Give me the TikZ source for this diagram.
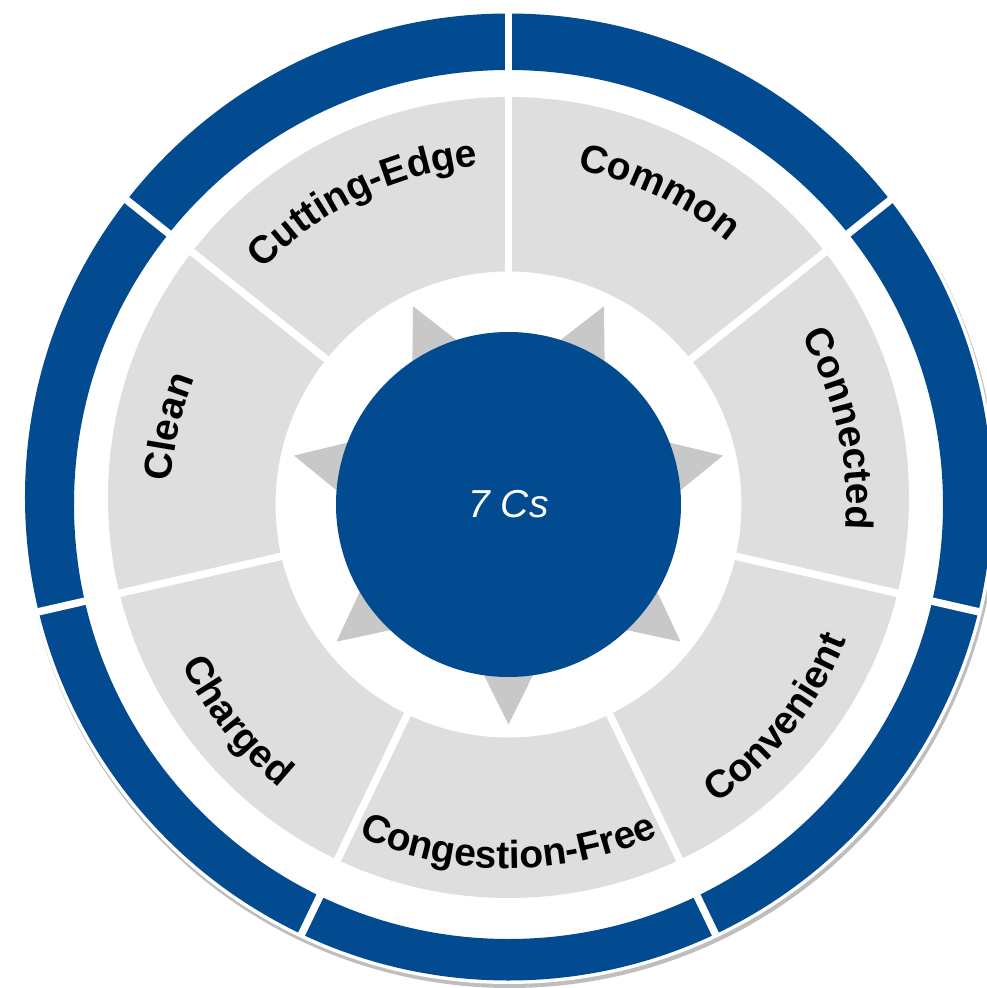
\documentclass[tikz,border=0pt]{standalone}
\usepackage{fontspec}
\setmainfont{Liberation Sans}
\usetikzlibrary{decorations.text}
\definecolor{cblue}{RGB}{2,75,145}
\definecolor{segray}{RGB}{222,222,222}
\definecolor{stargray}{RGB}{200,200,200}
\definecolor{shadowgray}{RGB}{190,190,190}
\tikzset{
  outtext/.style={decorate, decoration={text along path, text align=center,
      text={|\bfseries\fontsize{39}{42}\selectfont|#1}}},
  intext/.style={decorate, decoration={text along path, text align=center,
      text={|\bfseries\fontsize{39}{42}\selectfont|#1}}},
  gapline/.style={white, line width=7.5},
}
\begin{document}
\begin{tikzpicture}[x=1pt,y=1pt]
\useasboundingbox (-508.5,-483.5) rectangle (477.5,504.5);
% shadow and white rim
\fill[shadowgray] (1.5,4) circle (487.5);
\fill[white] (0,7.5) circle (487);
% outer blue ring
\fill[cblue, even odd rule] (0,7.5) circle (483.5) (0,0) circle (434.5);
% gray segments
\fill[segray, even odd rule] (0,7) circle (400.5) (0,0) circle (233);
% gaps
\begin{scope}
  \clip (0,7.5) circle (484);
  \foreach \k in {0,...,6}
    \draw[gapline] ({90-\k*360/7}:200) -- ({90-\k*360/7}:520);
\end{scope}
% star
\fill[stargray] (-90:220)
  \foreach \k in {0,...,6} { -- ({-90+\k*360/7+360/14}:124) -- ({-90+(\k+1)*360/7}:220) } -- cycle;
% centre disc
\fill[cblue] (0,0) circle (172.5);
\node[text=white, font=\itshape\fontsize{39}{42}\selectfont] (center) at (0,0) {7 Cs};
% labels, clockwise (tops outward)
\path[outtext={Cutting-Edge}] ({115.714+45}:340) arc[start angle=160.714, end angle=70.714, radius=340];
\path[outtext={Common}] ({64.286+45}:342) arc[start angle=109.286, end angle=19.286, radius=342];
\path[outtext={Connected}] ({12.857+45}:338) arc[start angle=57.857, end angle=-32.143, radius=338];
\path[outtext={Clean}] ({167.143+45}:338) arc[start angle=212.143, end angle=122.143, radius=338];
% labels, counter-clockwise (tops inward)
\path[intext={Convenient}] ({-38.571-45}:364) arc[start angle=-83.571, end angle=6.429, radius=364];
\path[intext={Congestion-Free}] ({-90-45}:364) arc[start angle=-135, end angle=-45, radius=364];
\path[intext={Charged}] ({-141.429-45}:364) arc[start angle=-186.429, end angle=-96.429, radius=364];
\end{tikzpicture}
\end{document}
